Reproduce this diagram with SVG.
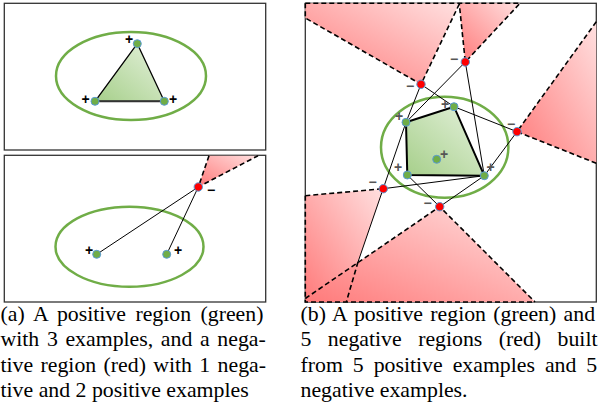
<svg xmlns="http://www.w3.org/2000/svg" width="602" height="408" viewBox="0 0 602 408">
<defs>
<linearGradient id="gg" x1="0" y1="1" x2="1" y2="0">
<stop offset="0" stop-color="#a6cf8a"/><stop offset="1" stop-color="#e6f2de"/>
</linearGradient>
<linearGradient id="rg" x1="0" y1="1" x2="1" y2="0">
<stop offset="0" stop-color="#ff7a7a"/><stop offset="1" stop-color="#ffe0e0"/>
</linearGradient>
<style>
.frame{fill:#fff;stroke:#333;stroke-width:1.3}
.reg{fill:url(#rg);stroke:none}
.dash{fill:none;stroke:#000;stroke-width:1.6;stroke-dasharray:5 3}
.ln{stroke:#000;stroke-width:1;fill:none}
.ell{fill:none;stroke:#70ad47;stroke-width:2.5}
.pos{fill:#70ad47;stroke:#5b9bd5;stroke-width:1}
.neg{fill:#ff0000;stroke:#5b9bd5;stroke-width:1}
.lbl{font-family:"Liberation Sans",Arial,sans-serif;font-size:14px;font-weight:bold;text-anchor:middle;dominant-baseline:central;fill:#000}
.lblg{font-family:"Liberation Sans",Arial,sans-serif;font-size:14px;font-weight:bold;text-anchor:middle;dominant-baseline:central;fill:#555}
.cap{font-family:"Liberation Serif","Times New Roman",serif;font-size:21.8px;fill:#000}
</style>
</defs>

<!-- panel a top -->
<g id="panel-a-top">
<rect class="frame" x="4.3" y="3.3" width="261.4" height="146.7"/>
<ellipse class="ell" cx="131" cy="76" rx="75" ry="44"/>
<polygon points="137.3,43.7 95,101.3 164.3,101.3" fill="url(#gg)" stroke="#000" stroke-width="1.3"/>
<line x1="95" y1="101.3" x2="164.3" y2="101.3" stroke="#333" stroke-width="2"/>
<circle class="pos" cx="137.3" cy="43.7" r="4"/>
<circle class="pos" cx="95" cy="101.3" r="4"/>
<circle class="pos" cx="164.3" cy="101.3" r="4"/>
<text class="lbl" x="129" y="39">+</text>
<text class="lbl" x="85.7" y="98.5">+</text>
<text class="lbl" x="173" y="98.5">+</text>
</g>

<!-- panel a bottom -->
<g id="panel-a-bottom">
<rect class="frame" x="4.3" y="155.3" width="261.4" height="146.7"/>
<polygon class="reg" points="198.3,187 209,155.7 258,155.7"/>
<path class="dash" d="M209,155.7 L198.3,187 L258,155.7"/>
<ellipse class="ell" cx="129.5" cy="246.7" rx="74" ry="40"/>
<g id="connectors-a">
<line class="ln" x1="198.3" y1="187" x2="96.7" y2="254.3"/>
<line class="ln" x1="198.3" y1="187" x2="166.7" y2="254.3"/>
</g>
<circle class="pos" cx="96.7" cy="254.3" r="4"/>
<circle class="pos" cx="166.7" cy="254.3" r="4"/>
<circle class="neg" cx="198.3" cy="187" r="4.2"/>
<text class="lbl" x="89" y="250.3">+</text>
<text class="lbl" x="178" y="250.3">+</text>
<text class="lbl" x="211" y="190">−</text>
</g>

<!-- panel b -->
<g id="panel-b">
<rect class="frame" x="305.3" y="3.3" width="291" height="298.7"/>
<g id="neg-regions">
<polygon class="reg" points="305.3,3.3 459.3,3.3 421,84.3 305.3,18"/>
<polygon class="reg" points="459.3,3.3 520,3.3 465.3,62"/>
<polygon class="reg" points="517,131.7 596.3,21.7 596.3,163.3"/>
<polygon class="reg" points="383.3,188.7 305.3,195.7 305.3,302 346.3,302 358,262"/>
<polygon class="reg" points="439.7,206.7 305.3,298.5 305.3,302 535,302"/>
<path class="dash" d="M305.3,3.3 V18 L421,84.3 L459.3,4 M305.3,3.3 H520 L465.3,62 L459.3,4"/>
<path class="dash" d="M596.3,21.7 L517,131.7 L596.3,163.3"/>
<path class="dash" d="M305.3,195.7 L383.3,188.7 M358,262 L346.3,302 M305.3,195.7 V302 H535"/>
<path class="dash" d="M305.3,298.5 L439.7,206.7 L535,302"/>
</g>
<ellipse class="ell" cx="444.7" cy="147.2" rx="63.7" ry="50.5"/>
<polygon points="406,122.3 454,106.7 484.3,175.7 407.3,175" fill="url(#gg)" stroke="#000" stroke-width="2"/>
<g id="connectors-b">
<line class="ln" x1="421" y1="84.3" x2="406" y2="122.3"/>
<line class="ln" x1="421" y1="84.3" x2="454" y2="106.7"/>
<line class="ln" x1="465.3" y1="62" x2="406" y2="122.3"/>
<line class="ln" x1="465.3" y1="62" x2="484.3" y2="175.7"/>
<line class="ln" x1="517" y1="131.7" x2="454" y2="106.7"/>
<line class="ln" x1="517" y1="131.7" x2="484.3" y2="175.7"/>
<line class="ln" x1="406" y1="122.3" x2="358" y2="262"/>
<line class="ln" x1="383.3" y1="188.7" x2="484.3" y2="175.7"/>
<line class="ln" x1="439.7" y1="206.7" x2="407.3" y2="175"/>
<line class="ln" x1="439.7" y1="206.7" x2="484.3" y2="175.7"/>
</g>
<g id="positives">
<circle class="pos" cx="406" cy="122.3" r="4"/>
<circle class="pos" cx="454" cy="106.7" r="4"/>
<circle class="pos" cx="484.3" cy="175.7" r="4"/>
<circle class="pos" cx="407.3" cy="175" r="4"/>
<circle class="pos" cx="436.7" cy="159.3" r="4"/>
</g>
<g id="negatives">
<circle class="neg" cx="421" cy="84.3" r="4.2"/>
<circle class="neg" cx="465.3" cy="62" r="4.2"/>
<circle class="neg" cx="517" cy="131.7" r="4.2"/>
<circle class="neg" cx="383.3" cy="188.7" r="4.2"/>
<circle class="neg" cx="439.7" cy="206.7" r="4.2"/>
</g>
<text class="lblg" x="399" y="116.3">+</text>
<text class="lblg" x="445" y="103.7">+</text>
<text class="lblg" x="490.7" y="166.7">+</text>
<text class="lblg" x="398" y="166.7">+</text>
<text class="lblg" x="444" y="154.3">+</text>
<text class="lblg" x="410" y="86">−</text>
<text class="lblg" x="454" y="58.7">−</text>
<text class="lblg" x="511" y="124">−</text>
<text class="lblg" x="372.7" y="182.3">−</text>
<text class="lblg" x="427.7" y="203.3">−</text>
</g>

<!-- captions -->
<g id="caption-a">
<text class="cap" x="0.5" y="320.5" word-spacing="4">(a) A positive region (green)</text>
<text class="cap" x="0.5" y="346" word-spacing="2.2">with 3 examples, and a nega-</text>
<text class="cap" x="0.5" y="371.5" word-spacing="1.9">tive region (red) with 1 nega-</text>
<text class="cap" x="0.5" y="397">tive and 2 positive examples</text>
</g>
<g id="caption-b">
<text class="cap" x="300.5" y="320.5" word-spacing="1.9">(b) A positive region (green) and</text>
<text class="cap" x="300.5" y="346" word-spacing="11">5 negative regions (red) built</text>
<text class="cap" x="300.5" y="371.5" word-spacing="4.5">from 5 positive examples and 5</text>
<text class="cap" x="300.5" y="397">negative examples.</text>
</g>
</svg>
